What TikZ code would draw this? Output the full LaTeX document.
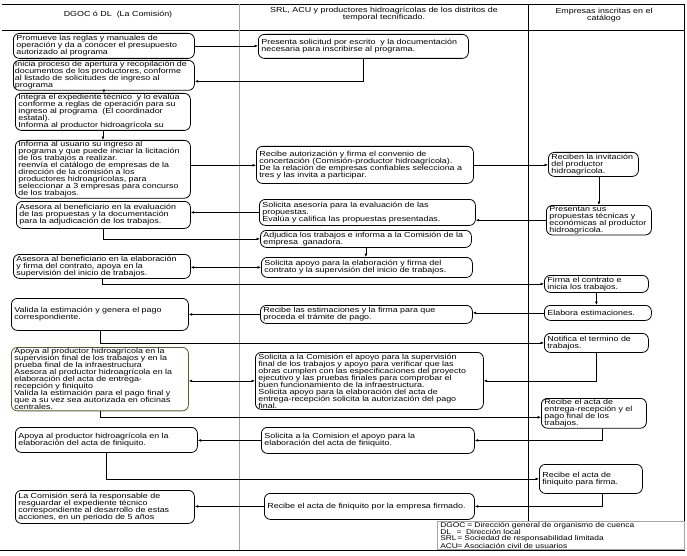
\documentclass[tikz,border=0pt]{standalone}
\usepackage{fontspec}
\setmainfont{Liberation Sans}
\newfontfamily\cajafont[FakeStretch=1.22]{Liberation Sans}
\usepackage{tikz}
\usetikzlibrary{arrows.meta}
\usepackage{xcolor}
\definecolor{bordeOliva}{RGB}{79, 98, 40}
\definecolor{carril}{RGB}{165, 165, 165}
\newcommand{\letraflujo}{\cajafont\fontsize{7.3}{7}\selectfont}
\newcommand{\letrasiglas}{\cajafont\fontsize{6.9}{5.6}\selectfont}

\begin{document}
\begin{tikzpicture}[x=1pt, y=-1pt, >={Latex[length=3.4pt, width=2.8pt]},
    caja/.style 2 args={draw, line width=0.8pt, rounded corners=6pt, anchor=north west,
      align=left, inner xsep=3pt, inner ysep=1pt, text width=#1, minimum height=#2,
      font=\letraflujo},
    flecha/.style={->, line width=0.6pt},
    titulo/.style={font=\letraflujo, align=center}]
  \useasboundingbox (0,0) rectangle (687,556);
  % Carriles
  \draw[line width=0.8pt] (2,4) -- (684,4);
  \draw[line width=0.8pt] (2,30) -- (684,30);
  \draw[carril, line width=0.6pt] (239,4) -- (239,550);
  \draw[line width=0.8pt] (528,4) -- (528,521);
  \draw[line width=0.8pt] (684,4) -- (684,550);
  \draw[line width=1.6pt] (0,550.5) -- (685,550.5);
  \node[titulo] (tDL) at (118,15) {DGOC ó DL \ (La Comisión)};
  \node[titulo] (tSRL) at (384,14) {SRL, ACU y productores hidroagrícolas de los distritos de\\ temporal tecnificado.};
  \node[titulo] (tEmp) at (604,15) {Empresas inscritas en el\\ catálogo};

  % Inscripcion al programa
  \node[caja={175pt}{25pt}] (L1) at (13,33) {Promueve las reglas y manuales de\\ operación y da a conocer el presupuesto\\ autorizado al programa};
  \node[caja={204pt}{24pt}] (M1) at (258,34) {Presenta solicitud por escrito \ y la documentación\\ necesaria para inscribirse al programa.};
  \node[caja={178pt}{29pt}, inner xsep=1.5pt] (L2) at (13,60) {Inicia proceso de apertura y recopilación de\\ documentos de los productores, conforme\\ al listado de solicitudes de ingreso al\\ programa};
  \node[caja={169pt}{37pt}] (L3) at (15,93) {Integra el expediente técnico \ y lo evalúa\\ conforme a reglas de operación para su\\ ingreso al programa \ (El coordinador\\ estatal).\\ Informa al productor hidroagrícola su};
  \node[caja={169pt}{57pt}] (L4) at (15,140) {Informa al usuario su ingreso al\\ programa y que puede iniciar la licitación\\ de los trabajos a realizar.\\ reenvía el catálogo de empresas de la\\ dirección de la comisión a los\\ productores hidroagrícolas, para\\ seleccionar a 3 empresas para concurso\\ de los trabajos.};
  \draw[flecha] (L1.east) -- (L1.east -| M1.west);
  \draw[flecha] (M1.south) |- ([yshift=-6pt]L2.east);
  \draw[flecha] (L2.south) -- (L2.south |- L3.north);
  \draw[flecha] (L3.south) -- (L3.south |- L4.north);

  % Concurso y adjudicacion
  \node[caja={211pt}{37pt}] (M2) at (256,146) {Recibe autorización y firma el convenio de\\ concertación (Comisión-productor hidroagrícola).\\ De la relación de empresas confiables selecciona a\\ tres y las invita a participar.};
  \node[caja={84pt}{24pt}] (R1) at (548,152) {Reciben la invitación\\ del productor\\ hidroagrícola.};
  \node[caja={99pt}{28pt}] (R2) at (546,205) {Presentan sus\\ propuestas técnicas y\\ económicas al productor\\ hidroagrícola.};
  \node[caja={210pt}{26pt}] (M3) at (259,199) {Solicita asesoría para la evaluación de las\\ propuestas.\\ Evalúa y califica las propuestas presentadas.};
  \node[caja={168pt}{27pt}] (L5) at (16,201) {Asesora al beneficiario en la evaluación\\ de las propuestas y la documentación\\ para la adjudicación de los trabajos.};
  \node[caja={205pt}{17pt}] (M4) at (260,230) {Adjudica los trabajos e informa a la Comisión de la\\ empresa \ ganadora.};
  \draw[flecha] ([yshift=4pt]L4.east) -- ([yshift=4pt]L4.east -| M2.west);
  \draw[flecha] (M2.east) -- (M2.east -| R1.west);
  \draw[flecha] (R2.north |- R1.south) -- (R2.north);
  \draw[flecha] (R2.west) -- (R2.west -| M3.east);
  \draw[flecha] (M3.west) -- (M3.west -| L5.east);
  \draw[flecha] (L5.south) |- (M4.west);

  % Contrato y estimaciones
  \node[caja={205pt}{20pt}] (M5) at (261,257) {Solicita apoyo para la elaboración y firma del\\ contrato y la supervisión del inicio de trabajos.};
  \node[caja={171pt}{24pt}] (L6) at (13,254) {Asesora al beneficiario en la elaboración\\ y firma del contrato, apoya en la\\ supervisión del inicio de trabajos.};
  \node[caja={98pt}{17pt}] (R3) at (544,275) {Firma el contrato e\\ inicia los trabajos.};
  \node[caja={101pt}{15pt}] (R4) at (544,305) {Elabora estimaciones.};
  \node[caja={206pt}{18pt}] (M6) at (260,305) {Recibe las estimaciones y la firma para que\\ proceda el trámite de pago.};
  \node[caja={171pt}{32pt}] (L7) at (11,298) {Valida la estimación y genera el pago\\ correspondiente.};
  \draw[flecha] (M4.south) -- (M4.south |- M5.north);
  \draw[flecha, <->] (M5.west) -- (M5.west -| L6.east);
  \draw[flecha] (L6.south) |- (R3.west);
  \draw[flecha] (R3.south) -- (R3.south |- R4.north);
  \draw[flecha] (R4.west) -- (R4.west -| M6.east);
  \draw[flecha] (M6.west) -- (M6.west -| L7.east);

  % Termino de trabajos
  \node[caja={98pt}{19pt}] (R5) at (544,333) {Notifica el termino de\\ trabajos.};
  \node[caja={222pt}{57pt}] (M7) at (255,352) {Solicita a la Comisión el apoyo para la supervisión\\ final de los trabajos y apoyo para verificar que las\\ obras cumplen con las especificaciones del proyecto\\ ejecutivo y las pruebas finales para comprobar el\\ buen funcionamiento de la infraestructura.\\ Solicita apoyo para la elaboración del acta de\\ entrega-recepción solicita la autorización del pago\\ final.};
  \node[caja={171pt}{63pt}, draw=bordeOliva] (L8) at (11,347) {Apoya al productor hidroagrícola en la\\ supervisión final de los trabajos y en la\\ prueba final de la infraestructura\\ Asesora al productor hidroagrícola en la\\ elaboración del acta de entrega-\\ recepción y finiquito\\ Valida la estimación para el pago final y\\ que a su vez sea autorizada en oficinas\\ centrales.};
  \node[caja={99pt}{29pt}] (R6) at (541,398) {Recibe el acta de\\ entrega-recepción y el\\ pago final de los\\ trabajos.};
  \draw[flecha] (L7.south) |- (R5.west);
  \draw[flecha] (R5.south) |- (M7.east);
  \draw[flecha, <->] (M7.west) -- (M7.west -| L8.east);
  \draw[flecha] (L8.south) |- ([yshift=-4pt]R6.west);

  % Finiquito
  \node[caja={207pt}{26pt}] (M8) at (261,427) {Solicita a la Comision el apoyo para la\\ elaboración del acta de finiquito.};
  \node[caja={176pt}{25pt}] (L9) at (15,427) {Apoya al productor hidroagrícola en la\\ elaboración del acta de finiquito.};
  \node[caja={97pt}{29pt}] (R7) at (539,464) {Recibe el acta de\\ finiquito para firma.};
  \node[caja={204pt}{26pt}] (M9) at (264,493) {Recibe el acta de finiquito por la empresa firmado.};
  \node[caja={173pt}{33pt}] (L10) at (15,490) {La Comisión será la responsable de\\ resguardar el expediente técnico\\ correspondiente al desarrollo de estas\\ acciones, en un periodo de 5 años};
  \draw[flecha] ([xshift=8pt]R6.south) |- (M8.east);
  \draw[flecha] (M8.west) -- (M8.west -| L9.east);
  \draw[flecha] (L9.south) |- (R7.west);
  \draw[flecha] ([xshift=11pt]R7.south) |- (M9.east);
  \draw[flecha] (M9.west) -- (M9.west -| L10.east);

  % Siglas
  \node[draw=carril, line width=0.5pt, anchor=north west, minimum width=247pt, minimum height=28pt,
    inner xsep=3pt, inner ysep=0.5pt, align=left, font=\letrasiglas, text width=241pt] (siglas) at (437,521)
    {\makebox[27pt][l]{DGOC}= Dirección general de organismo de cuenca\\
     \makebox[14pt][l]{DL}\ = \ Dirección local\\
     \makebox[17pt][l]{SRL}= Sociedad de responsabilidad limitada\\
     \makebox[17pt][l]{ACU}= Asociación civil de usuarios};
\end{tikzpicture}
\end{document}
